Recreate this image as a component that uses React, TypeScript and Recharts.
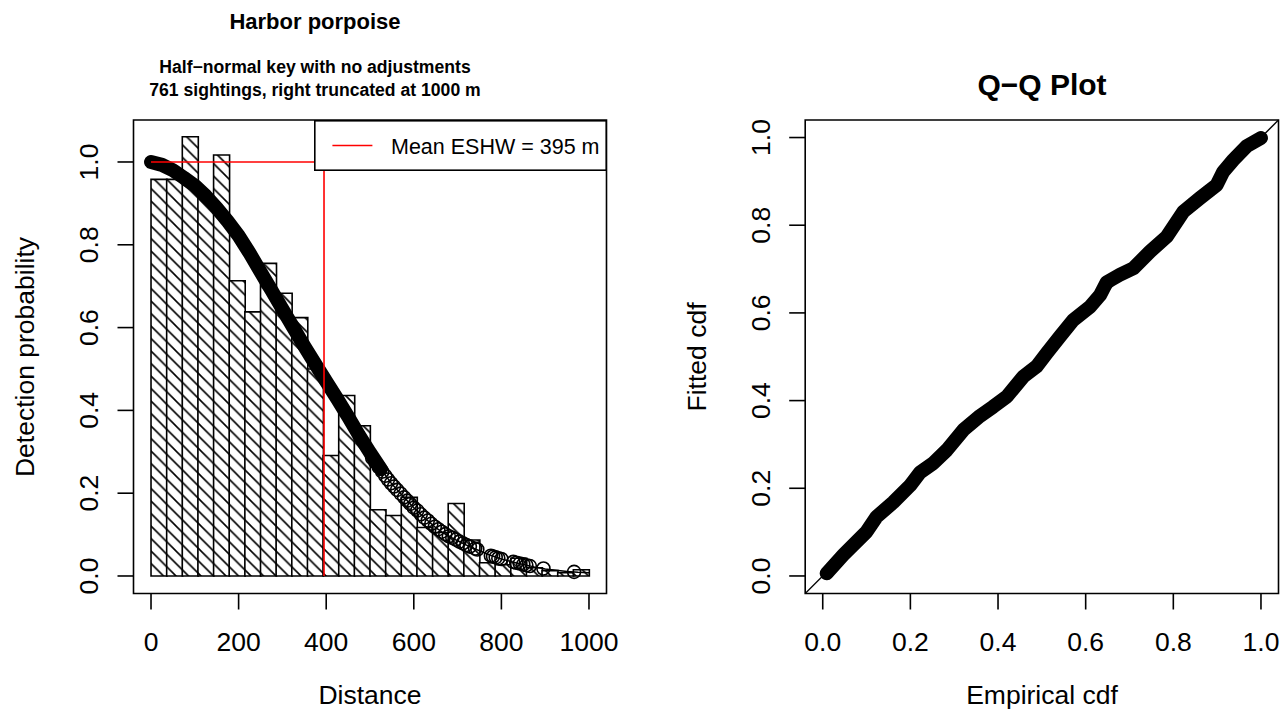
import React from 'react';
import { ComposedChart, Bar, Line, Scatter, XAxis, YAxis, ReferenceLine, ReferenceArea, Legend } from 'recharts';

// ---------- data ----------
const truncation = 1000;
const binHeights = [0.958, 0.958, 1.061, 0.92, 1.017, 0.713, 0.638, 0.755, 0.683, 0.624, 0.5, 0.291, 0.436, 0.363,
  0.16, 0.146, 0.19, 0.117, 0.105, 0.175, 0.087, 0.032, 0.027, 0.043, 0.02, 0.013, 0.008, 0.015];

const curveDistance = [0, 25, 50, 75, 100, 125, 150, 175, 200, 225, 250, 275, 300, 325, 350, 375, 400, 425, 450, 475, 500,
  525, 550, 575, 600, 625, 650, 675, 700, 725, 750, 775, 800, 825, 850, 875, 900, 925, 950, 975, 1000];
const curveProb = [1.0, 0.993, 0.98, 0.962, 0.943, 0.918, 0.889, 0.857, 0.822, 0.78, 0.735, 0.69, 0.645, 0.6, 0.555, 0.512,
  0.47, 0.428, 0.385, 0.34, 0.298, 0.258, 0.222, 0.193, 0.165, 0.14, 0.117, 0.099, 0.085, 0.072, 0.061, 0.05, 0.041, 0.034,
  0.028, 0.022, 0.017, 0.014, 0.011, 0.009, 0.008];
const denseUntil = 530;

const obsDistance = [505, 512, 520, 528, 535, 541, 548, 555, 562, 570, 578, 585, 592, 600, 608, 616, 624, 632, 640, 648, 656,
  664, 672, 680, 688, 696, 704, 712, 720, 728, 740, 745, 776, 781, 787, 793, 800, 827, 834, 842, 850, 857, 865, 896, 966];
const obsProb = [0.285, 0.275, 0.263, 0.252, 0.242, 0.233, 0.224, 0.216, 0.208, 0.199, 0.19, 0.182, 0.174, 0.165, 0.158,
  0.149, 0.141, 0.134, 0.126, 0.119, 0.113, 0.107, 0.101, 0.096, 0.092, 0.088, 0.083, 0.079, 0.075, 0.071, 0.066, 0.064,
  0.049, 0.047, 0.045, 0.043, 0.041, 0.034, 0.032, 0.03, 0.028, 0.026, 0.024, 0.018, 0.01];

const eshw = 395;
const legendLabel = 'Mean ESHW = 395 m';

const qqEmpirical = [0.009, 0.047, 0.1, 0.123, 0.161, 0.199, 0.222, 0.252, 0.283, 0.321, 0.359, 0.389, 0.42, 0.458, 0.488,
  0.511, 0.541, 0.572, 0.61, 0.633, 0.648, 0.678, 0.709, 0.747, 0.785, 0.823, 0.861, 0.899, 0.914, 0.937, 0.967, 1.0];
const qqFitted = [0.006, 0.048, 0.101, 0.135, 0.168, 0.206, 0.236, 0.257, 0.287, 0.333, 0.365, 0.386, 0.409, 0.455, 0.478,
  0.508, 0.546, 0.584, 0.614, 0.641, 0.67, 0.687, 0.702, 0.74, 0.774, 0.831, 0.862, 0.892, 0.922, 0.949, 0.98, 0.999];

const distTicks = [0, 200, 400, 600, 800, 1000];
const probTicks = [0, 0.2, 0.4, 0.6, 0.8, 1.0];
const cdfTicks = [0, 0.2, 0.4, 0.6, 0.8, 1.0];

const mainTitle = 'Harbor porpoise';
const subTitle1 = 'Half\u2212normal key with no adjustments';
const subTitle2 = '761 sightings, right truncated at 1000 m';
const qqTitle = 'Q\u2212Q Plot';

// ---------- derived tables ----------
const binW = truncation / binHeights.length;
const bins = binHeights.map((h, i) => ({ x: (i + 0.5) * binW, h }));
const curve = curveDistance.map((d, i) => ({ x: d, y: curveProb[i] }));
const band = curve.filter((p) => p.x <= denseUntil);
const obs = obsDistance.map((d, i) => ({ x: d, y: obsProb[i] }));
const qq = qqEmpirical.map((e, i) => ({ x: e, y: qqFitted[i] }));

// ---------- layout ----------
const FONT = 'Liberation Sans, Arial, Helvetica, sans-serif';
const W = 644;
const H = 721;
const TOP = 120;
const BOTTOM = 127.5;
const L_LEFT = 133.5;
const L_RIGHT = 37.5;
const R_LEFT = 161.2;
const R_RIGHT = 9.5;
const TICK = 16;
const AX = 26.5;
const LW = 1.6;

const xDom: [number, number] = [-40, 1040];
const yDom: [number, number] = [-0.0423, 1.1014];
const qDom: [number, number] = [-0.04, 1.04];

const XTick = (fmt: (v: number) => string) => (props: any) => {
  const { x, y, payload } = props;
  return (
    <text x={x} y={y + 41} textAnchor="middle" fontSize={AX} fontFamily={FONT} fill="#000">
      {fmt(payload.value)}
    </text>
  );
};
const YTick = (fmt: (v: number) => string) => (props: any) => {
  const { x, y, payload } = props;
  const cx = x - 19;
  return (
    <text x={cx} y={y} transform={`rotate(-90, ${cx}, ${y})`} textAnchor="middle" fontSize={AX} fontFamily={FONT} fill="#000">
      {fmt(payload.value)}
    </text>
  );
};

const f0 = (v: number) => String(v);
const f1 = (v: number) => v.toFixed(1);

const Ring = (props: any) => (
  <circle cx={props.cx} cy={props.cy} r={6.5} fill="none" stroke="#000" strokeWidth={1.6} />
);

const LegendBox = () => (
  <svg width={293} height={51} style={{ display: 'block' }}>
    <rect x={0.8} y={0.8} width={291.4} height={49.4} fill="#fff" stroke="#000" strokeWidth={LW} />
    <line x1={18.4} x2={58.4} y1={25.5} y2={25.5} stroke="#ff0000" strokeWidth={LW} />
    <text x={77} y={33.5} fontSize={21.5} fontFamily={FONT} fill="#000">{legendLabel}</text>
  </svg>
);

const P = 12.5;

export default function App() {
  const abs = (left: number): React.CSSProperties => ({ position: 'absolute', left, top: 0 });
  return (
    <div style={{ position: 'absolute', left: 0, top: 0, width: 1288, height: 721, background: '#fff', fontFamily: FONT }}>
      {/* Left panel: histogram with axes */}
      <div style={abs(0)}>
        <ComposedChart width={W} height={H} data={bins} margin={{ top: TOP, right: L_RIGHT, bottom: 0, left: 0 }}
          barCategoryGap={0} barGap={0}>
          <defs>
            <pattern id="hatch" patternUnits="userSpaceOnUse" width={P} height={P}>
              <rect width={P} height={P} fill="#fff" />
              <path d={`M0,0 L${P},${P} M${-P / 2},${P / 2} L${P / 2},${1.5 * P} M${P / 2},${-P / 2} L${1.5 * P},${P / 2}`}
                stroke="#000" strokeWidth={1.6} />
            </pattern>
          </defs>
          <XAxis dataKey="x" type="number" domain={xDom} ticks={distTicks} allowDataOverflow height={BOTTOM}
            tickSize={TICK} tickMargin={0} axisLine={false} tickLine={{ stroke: '#000', strokeWidth: LW }}
            tick={XTick(f0)} interval={0} />
          <YAxis type="number" domain={yDom} ticks={probTicks} allowDataOverflow width={L_LEFT}
            tickSize={TICK} tickMargin={0} axisLine={false} tickLine={{ stroke: '#000', strokeWidth: LW }}
            tick={YTick(f1)} interval={0} />
          <Bar dataKey="h" fill="url(#hatch)" stroke="#000" strokeWidth={1.6} isAnimationActive={false} />
        </ComposedChart>
      </div>
      {/* Left panel overlay: fitted curve, points, ESHW lines, legend, box */}
      <div style={abs(0)}>
        <ComposedChart width={W} height={H} margin={{ top: TOP, right: L_RIGHT, bottom: BOTTOM, left: L_LEFT }}>
          <XAxis dataKey="x" type="number" domain={xDom} allowDataOverflow hide />
          <YAxis type="number" domain={yDom} allowDataOverflow hide />
          <Line data={band} dataKey="y" stroke="#000" strokeWidth={14} strokeLinecap="round" strokeLinejoin="round"
            dot={false} isAnimationActive={false} />
          <Line data={curve} dataKey="y" stroke="#000" strokeWidth={1.5} dot={false} isAnimationActive={false} />
          <Scatter data={obs} dataKey="y" shape={Ring} isAnimationActive={false} />
          <ReferenceLine segment={[{ x: 0, y: 1 }, { x: eshw, y: 1 }]} stroke="#ff0000" strokeWidth={LW} ifOverflow="visible" />
          <ReferenceLine segment={[{ x: eshw, y: 0 }, { x: eshw, y: 1 }]} stroke="#ff0000" strokeWidth={LW} ifOverflow="visible" />
          <ReferenceArea x1={xDom[0]} x2={xDom[1]} y1={yDom[0]} y2={yDom[1]} fill="none" stroke="#000" strokeWidth={LW}
            ifOverflow="visible" />
          <Legend layout="vertical" align="center" verticalAlign="middle" content={() => <LegendBox />}
            wrapperStyle={{ position: 'absolute', top: TOP, left: 313.5, width: 293, height: 51 }} />
        </ComposedChart>
      </div>
      {/* Right panel: Q-Q plot */}
      <div style={abs(W)}>
        <ComposedChart width={W} height={H} margin={{ top: TOP, right: R_RIGHT, bottom: 0, left: 0 }}>
          <XAxis dataKey="x" type="number" domain={qDom} ticks={cdfTicks} allowDataOverflow height={BOTTOM}
            tickSize={TICK} tickMargin={0} axisLine={false} tickLine={{ stroke: '#000', strokeWidth: LW }}
            tick={XTick(f1)} interval={0} />
          <YAxis type="number" domain={qDom} ticks={cdfTicks} allowDataOverflow width={R_LEFT}
            tickSize={TICK} tickMargin={0} axisLine={false} tickLine={{ stroke: '#000', strokeWidth: LW }}
            tick={YTick(f1)} interval={0} />
          <ReferenceLine segment={[{ x: qDom[0], y: qDom[0] }, { x: qDom[1], y: qDom[1] }]} stroke="#000" strokeWidth={1.3}
            ifOverflow="visible" />
          <Line data={qq} dataKey="y" stroke="#000" strokeWidth={14} strokeLinecap="round" strokeLinejoin="round"
            dot={false} isAnimationActive={false} />
          <ReferenceArea x1={qDom[0]} x2={qDom[1]} y1={qDom[0]} y2={qDom[1]} fill="none" stroke="#000" strokeWidth={LW}
            ifOverflow="visible" />
        </ComposedChart>
      </div>
      {/* Titles and axis titles */}
      <svg width={1288} height={721} style={{ position: 'absolute', left: 0, top: 0, pointerEvents: 'none' }}>
        <g fontFamily={FONT} fill="#000">
          <text x={315} y={29} textAnchor="middle" fontSize={22} fontWeight="bold">{mainTitle}</text>
          <text x={315} y={73} textAnchor="middle" fontSize={17.6} fontWeight="bold">{subTitle1}</text>
          <text x={315} y={96} textAnchor="middle" fontSize={17.6} fontWeight="bold">{subTitle2}</text>
          <text x={1042} y={95} textAnchor="middle" fontSize={30} fontWeight="bold">{qqTitle}</text>
          <text x={370} y={704} textAnchor="middle" fontSize={AX}>Distance</text>
          <text x={1042} y={704} textAnchor="middle" fontSize={AX}>Empirical cdf</text>
          <text x={34} y={357} textAnchor="middle" fontSize={AX} transform="rotate(-90, 34, 357)">Detection probability</text>
          <text x={706} y={357} textAnchor="middle" fontSize={AX} transform="rotate(-90, 706, 357)">Fitted cdf</text>
        </g>
      </svg>
    </div>
  );
}
